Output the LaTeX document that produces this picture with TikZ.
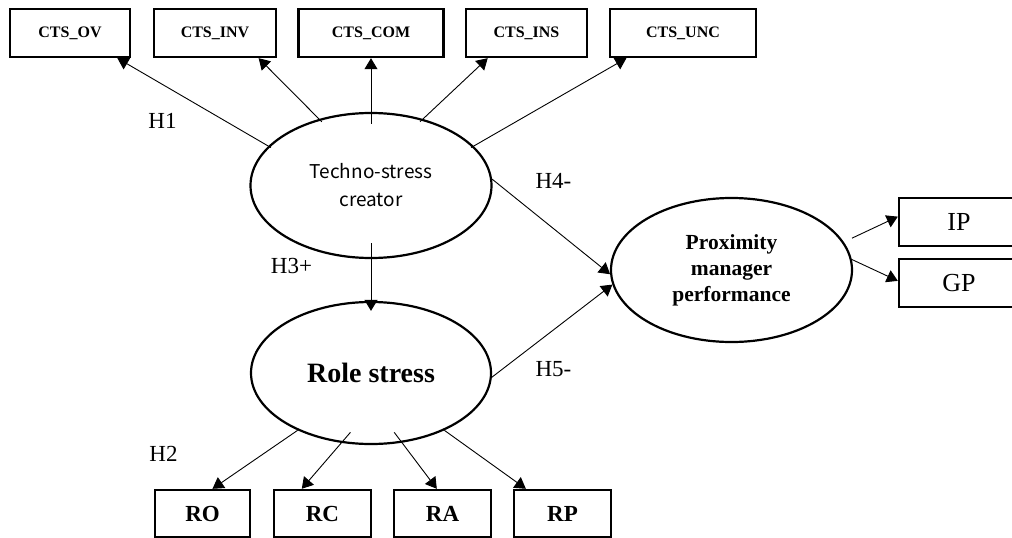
\documentclass[tikz,border=0pt]{standalone}
\usepackage{fontspec}
\setmainfont{Liberation Serif}
\newfontfamily\cjksans{Noto Sans CJK SC}
\usetikzlibrary{arrows.meta,shapes.geometric}

\begin{document}
\begin{tikzpicture}[x=1pt,y=-1pt,
  ind/.style={draw,line width=2.4pt,inner sep=0pt,minimum height=48pt},
  lat/.style={draw,ellipse,line width=2.2pt,inner sep=0pt,align=center},
  link/.style={line width=0.9pt,-{Triangle[length=11pt,width=13pt]}},
  hyp/.style={inner sep=0pt,font=\fontsize{23}{27}\selectfont}]
\useasboundingbox (0,0) rectangle (1012,538);
% indicators of the techno-stress creator
\node[ind,minimum width=120pt,font=\fontsize{16}{19}\selectfont\bfseries] (ov) at (70,33) {CTS\_OV};
\node[ind,minimum width=122pt,font=\fontsize{16}{19}\selectfont\bfseries] (inv) at (215,33) {CTS\_INV};
\node[ind,minimum width=145pt,font=\fontsize{16}{19}\selectfont\bfseries] (com) at (371,33) {CTS\_COM};
\node[ind,minimum width=121pt,font=\fontsize{16}{19}\selectfont\bfseries] (ins) at (526.5,33) {CTS\_INS};
\node[ind,minimum width=146pt,font=\fontsize{16}{19}\selectfont\bfseries] (unc) at (683,33) {CTS\_UNC};
% latent constructs
\node[lat,minimum width=241pt,minimum height=145pt,font=\cjksans\fontsize{19}{28}\selectfont] (tsc) at (371,185.5) {Techno-stress\\creator};
\node[lat,minimum width=240pt,minimum height=142pt,font=\fontsize{28}{32}\selectfont\bfseries] (rs) at (371,373) {Role stress};
\node[lat,minimum width=241pt,minimum height=144pt,font=\fontsize{21.5}{26}\selectfont\bfseries] (pmp) at (731.5,270) {Proximity\\manager\\performance};
% performance indicators
\node[ind,minimum width=120pt,font=\fontsize{26}{30}\selectfont] (ip) at (959,222) {IP};
\node[ind,minimum width=120pt,font=\fontsize{26}{30}\selectfont] (gp) at (959,283) {GP};
% role stress indicators
\node[ind,minimum width=95pt,minimum height=47pt,font=\fontsize{23}{27}\selectfont\bfseries] (ro) at (202.5,513.5) {RO};
\node[ind,minimum width=97pt,minimum height=47pt,font=\fontsize{23}{27}\selectfont\bfseries] (rc) at (322.5,513.5) {RC};
\node[ind,minimum width=97pt,minimum height=47pt,font=\fontsize{23}{27}\selectfont\bfseries] (ra) at (442.5,513.5) {RA};
\node[ind,minimum width=97pt,minimum height=47pt,font=\fontsize{23}{27}\selectfont\bfseries] (rp) at (562.5,513.5) {RP};
% arrows
\draw[link,shorten <=-3pt] (tsc.159) -- (ov.-28);
\draw[link,shorten <=-4pt] (tsc.128) -- (inv.-30);
\draw[link,shorten <=-12pt] (tsc.90) -- (com.south);
\draw[link,shorten <=-4pt] (tsc.52) -- (ins.-147);
\draw[link,shorten <=-3pt] (tsc.21) -- (unc.-156);
\draw[link,shorten <=-16pt,shorten >=-10pt] (tsc.south) -- (rs.north);
\draw[link] (tsc.3) -- (pmp.182);
\draw[link] (rs.-2) -- (pmp.187);
\draw[link] (rs.218) -- (ro.68);
\draw[link,shorten <=-14pt] (rs.247) -- (rc.130);
\draw[link,shorten <=-13pt] (rs.-66) -- (ra.103);
\draw[link] (rs.-38) -- (rp.146);
\draw[link,shorten <=9pt] (pmp.14) -- (ip.175);
\draw[link] (pmp.5) -- (gp.178);
% hypotheses
\node[hyp] (h1) at (162.5,120.5) {H1};
\node[hyp] (h2) at (163.5,454) {H2};
\node[hyp] (h3) at (291.5,265.5) {H3+};
\node[hyp] (h4) at (553.5,180.5) {H4-};
\node[hyp] (h5) at (553.5,369.5) {H5-};
\end{tikzpicture}
\end{document}
